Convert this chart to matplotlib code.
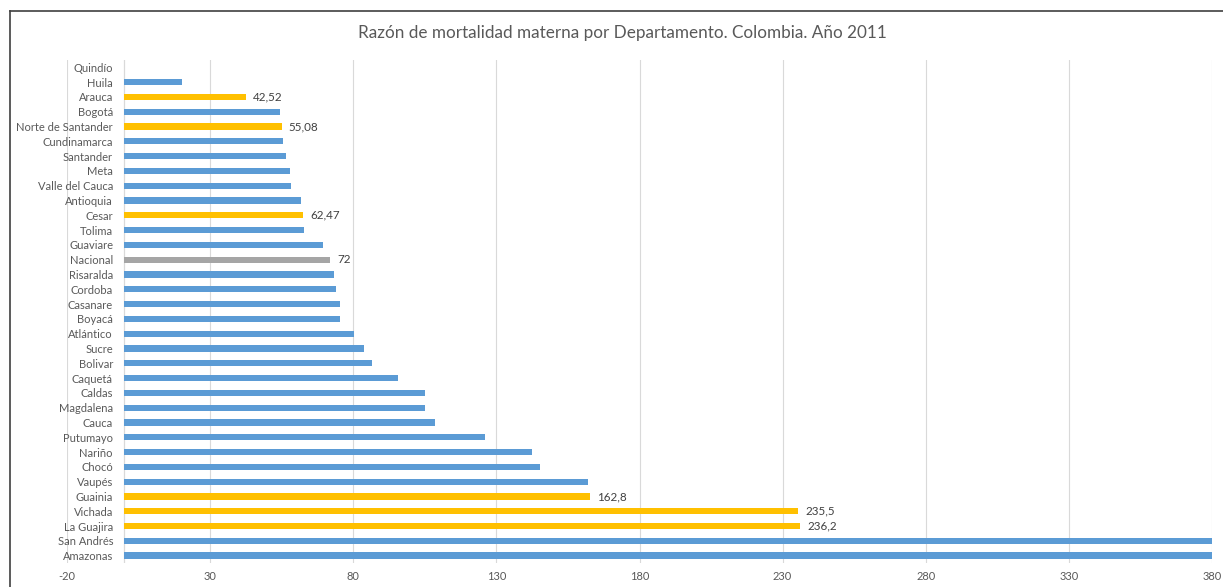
import matplotlib
matplotlib.use("Agg")
import matplotlib.pyplot as plt
from matplotlib.lines import Line2D
import matplotlib.transforms as mtransforms

departments = ["Quindío", "Huila", "Arauca", "Bogotá", "Norte de Santander", "Cundinamarca",
               "Santander", "Meta", "Valle del Cauca", "Antioquia", "Cesar", "Tolima",
               "Guaviare", "Nacional", "Risaralda", "Cordoba", "Casanare", "Boyacá",
               "Atlántico", "Sucre", "Bolivar", "Caquetá", "Caldas", "Magdalena", "Cauca",
               "Putumayo", "Nariño", "Chocó", "Vaupés", "Guainia", "Vichada", "La Guajira",
               "San Andrés", "Amazonas"]
values = [0, 20.3, 42.52, 54.5, 55.08, 55.6, 56.6, 58.0, 58.4, 61.9, 62.47, 62.9,
          69.6, 72, 73.4, 73.8, 75.2, 75.2, 80.4, 83.9, 86.7, 95.8, 104.9, 105.2,
          108.4, 126.2, 142.3, 145.1, 161.9, 162.8, 235.5, 236.2, 420.0, 445.0]
highlight = ["Arauca", "Norte de Santander", "Cesar", "Guainia", "Vichada", "La Guajira"]
national = ["Nacional"]
labels = {"Arauca": "42,52", "Norte de Santander": "55,08", "Cesar": "62,47",
          "Nacional": "72", "Guainia": "162,8", "Vichada": "235,5", "La Guajira": "236,2"}
xticks = [-20, 30, 80, 130, 180, 230, 280, 330, 380]

BLUE, GOLD, GRAY, TXT = "#5B9BD5", "#FFC000", "#A5A5A5", "#595959"

plt.rcParams['font.family'] = ['Lato', 'DejaVu Sans']

fig = plt.figure(figsize=(12.23, 5.87), dpi=100)
ax = fig.add_axes([67/1223, 24/587, (1212-67)/1223, (527-24)/587])

n = len(departments)
ys = list(range(n))
colors = []
for d in departments:
    if d in highlight:
        colors.append(GOLD)
    elif d in national:
        colors.append(GRAY)
    else:
        colors.append(BLUE)

ax.barh(ys, values, height=0.42, color=colors, zorder=3)
ax.set_ylim(n - 0.5, -0.5)
ax.set_xlim(-20, 380)
ax.set_xticks(xticks)
ax.set_xticklabels([str(t) for t in xticks], fontsize=8, color=TXT)
ax.set_yticks(ys)
ax.set_yticklabels(departments, fontsize=8, color=TXT)
ax.tick_params(axis='x', length=0, pad=6)
ax.tick_params(axis='y', length=0, pad=0)
ax.xaxis.grid(True, color="#D9D9D9", linewidth=0.8, zorder=0)
ax.axvline(0, color="#D9D9D9", linewidth=0.9, zorder=1)
for s in ax.spines.values():
    s.set_visible(False)

for y, d, v in zip(ys, departments, values):
    if d in labels:
        ax.annotate(labels[d], (v, y), xytext=(5, 0), textcoords="offset points",
                    va="center", ha="left", fontsize=8.4, color="#404040")

# category labels end just left of the zero line
offset = mtransforms.ScaledTranslation((113 - 67) / 100.0, 0, fig.dpi_scale_trans)
for lbl in ax.get_yticklabels():
    lbl.set_ha("right")
    lbl.set_transform(lbl.get_transform() + offset)

fig.text(622/1223, 1 - 33/587, "Razón de mortalidad materna por Departamento. Colombia. Año 2011",
         ha="center", va="center", fontsize=12.3, color=TXT)

fig.add_artist(Line2D([10/1223, 1], [1 - 11/587, 1 - 11/587], color="#404040",
                      linewidth=1.2, transform=fig.transFigure))
fig.add_artist(Line2D([10/1223, 10/1223], [0, 1 - 11/587], color="#404040",
                      linewidth=1.2, transform=fig.transFigure))

fig.savefig("out.png", dpi=100, facecolor="white")
